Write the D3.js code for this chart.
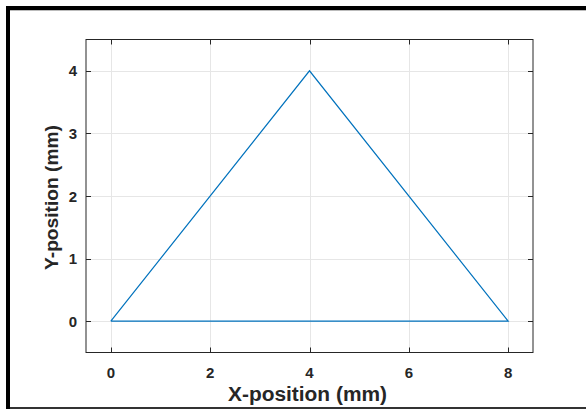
<!DOCTYPE html>
<html><head><meta charset="utf-8">
<script src="https://cdn.jsdelivr.net/npm/d3@7"></script>
<style>body{margin:0;background:#fff}svg{display:block}</style>
</head><body>
<script>
const xs = [0, 4, 8, 0];
const ys = [0, 4, 0, 0];
const xTicks = [0, 2, 4, 6, 8];
const yTicks = [0, 1, 2, 3, 4];
const xLabel = "X-position (mm)";
const yLabel = "Y-position (mm)";

const W = 586, H = 409;
const svg = d3.select("body").append("svg").attr("width", W).attr("height", H);
const L = 86, R = 533, T = 39.5, B = 352.5;
const x = d3.scaleLinear().domain([-0.5, 8.5]).range([L, R]);
const y = d3.scaleLinear().domain([-0.5, 4.5]).range([B, T]);

// outer frame
svg.append("rect").attr("x", 6).attr("y", 6).attr("width", 4).attr("height", H).attr("fill", "#000");
svg.append("rect").attr("x", 6).attr("y", 6).attr("width", W).attr("height", 4).attr("fill", "#000");
svg.append("rect").attr("x", 10).attr("y", 10).attr("width", W).attr("height", 1).attr("fill", "#bbb");
svg.append("rect").attr("x", 10).attr("y", 407).attr("width", W).attr("height", 2).attr("fill", "#333");

// grid
const g = svg.append("g");
g.selectAll(".gx").data(xTicks).enter().append("line")
  .attr("x1", d => Math.round(x(d)) + 0.5).attr("x2", d => Math.round(x(d)) + 0.5)
  .attr("y1", T).attr("y2", B).attr("stroke", "#e6e6e6").attr("stroke-width", 1);
g.selectAll(".gy").data(yTicks).enter().append("line")
  .attr("y1", d => Math.round(y(d)) + 0.5).attr("y2", d => Math.round(y(d)) + 0.5)
  .attr("x1", L).attr("x2", R).attr("stroke", "#e6e6e6").attr("stroke-width", 1);

// data line
svg.append("path")
  .datum(xs.map((v, i) => [v, ys[i]]))
  .attr("d", d3.line().x(d => x(d[0])).y(d => y(d[1])))
  .attr("fill", "none").attr("stroke", "#0072BD").attr("stroke-width", 1.2);

// axes box
const ax = svg.append("g").attr("stroke", "#262626").attr("stroke-width", 1).attr("fill", "none");
ax.append("rect").attr("x", L).attr("y", T).attr("width", R - L).attr("height", B - T);
const tl = 5;
xTicks.forEach(d => {
  const px = Math.round(x(d)) + 0.5;
  ax.append("line").attr("x1", px).attr("x2", px).attr("y1", B).attr("y2", B - tl);
  ax.append("line").attr("x1", px).attr("x2", px).attr("y1", T).attr("y2", T + tl);
});
yTicks.forEach(d => {
  const py = Math.round(y(d)) + 0.5;
  ax.append("line").attr("y1", py).attr("y2", py).attr("x1", L).attr("x2", L + tl);
  ax.append("line").attr("y1", py).attr("y2", py).attr("x1", R).attr("x2", R - tl);
});

const font = "'Liberation Sans', Arial, sans-serif";
svg.selectAll(".xt").data(xTicks).enter().append("text")
  .attr("x", d => x(d)).attr("y", 377.5).attr("text-anchor", "middle")
  .attr("font-family", font).attr("font-weight", "bold").attr("font-size", 15).attr("fill", "#262626")
  .text(d => d);
svg.selectAll(".yt").data(yTicks).enter().append("text")
  .attr("x", 77).attr("y", d => y(d) + 5.5).attr("text-anchor", "end")
  .attr("font-family", font).attr("font-weight", "bold").attr("font-size", 15).attr("fill", "#262626")
  .text(d => d);

svg.append("text").attr("x", 307.5).attr("y", 401)
  .attr("text-anchor", "middle").attr("font-family", font).attr("font-weight", "bold")
  .attr("font-size", 19.5).attr("textLength", 159).attr("lengthAdjust", "spacingAndGlyphs")
  .attr("fill", "#262626").text(xLabel);
svg.append("text").attr("transform", `translate(57.5,197.5) rotate(-90)`)
  .attr("text-anchor", "middle").attr("font-family", font).attr("font-weight", "bold")
  .attr("font-size", 19).attr("textLength", 145).attr("lengthAdjust", "spacingAndGlyphs")
  .attr("fill", "#262626").text(yLabel);
</script>
</body></html>
